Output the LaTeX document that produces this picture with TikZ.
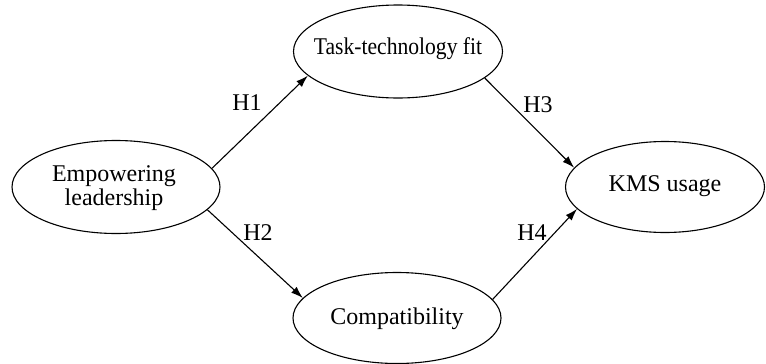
\documentclass[tikz,border=0pt]{standalone}
\usepackage{fontspec}
\setmainfont{Liberation Serif}
\usetikzlibrary{shapes.geometric,arrows.meta}
\begin{document}
\begin{tikzpicture}[x=1pt,y=1pt,
  ell/.style={draw,ellipse,line width=1.1pt,inner sep=0pt},
  txt/.style={font=\fontsize{24}{24}\selectfont,align=center,inner sep=0pt},
  lbl/.style={font=\fontsize{24}{24}\selectfont,inner sep=0pt},
  arr/.style={-{Latex[length=12pt,width=8pt]},line width=1.1pt}]
\useasboundingbox (0,0) rectangle (766,-364);
\node[ell,minimum width=208pt,minimum height=93pt] (emp) at (116,-187) {};
\node[ell,minimum width=209pt,minimum height=93pt] (task) at (398,-51.5) {};
\node[ell,minimum width=208pt,minimum height=91pt] (comp) at (397,-318) {};
\node[ell,minimum width=199pt,minimum height=91pt] (kms) at (665,-187) {};
\node[txt] (empt) at (114,-188) {Empowering\\leadership};
\node[txt] (taskt) at (398,-49) {\scalebox{0.9}[1]{Task-technology fit}};
\node[txt] (compt) at (397,-319) {Compatibility};
\node[txt] (kmst) at (665,-186) {KMS usage};
\draw[arr] (emp.11) -- (task.195.5);
\draw[arr] (task.-17.5) -- (kms.168.5);
\draw[arr] (emp.-14) -- (comp.168.5);
\draw[arr] (comp.11) -- (kms.194.5);
\node[lbl] (h1) at (247,-103) {H1};
\node[lbl] (h3) at (538,-105) {H3};
\node[lbl] (h2) at (258,-233) {H2};
\node[lbl] (h4) at (532,-233) {H4};
\end{tikzpicture}
\end{document}
